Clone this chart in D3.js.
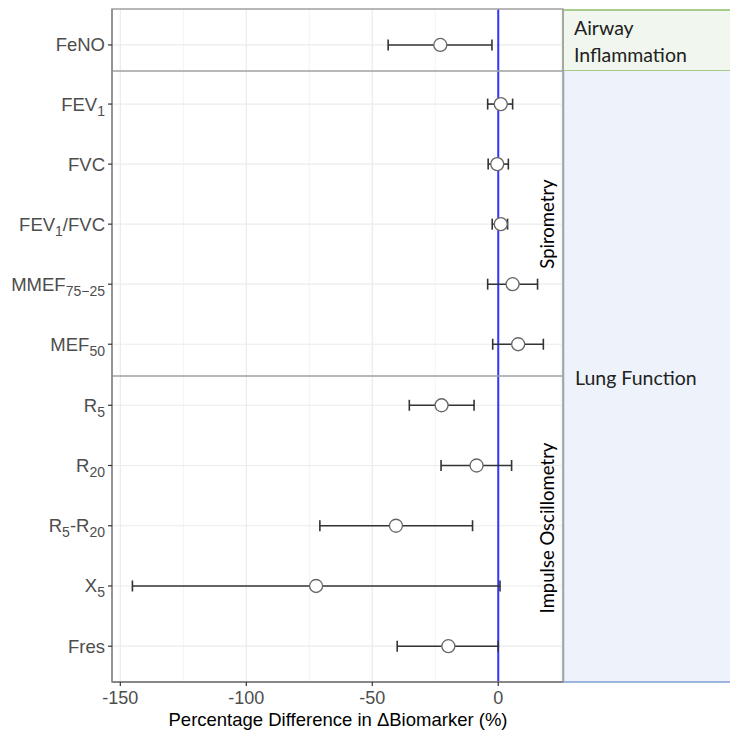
<!DOCTYPE html>
<html>
<head>
    <meta charset="utf-8">
    <title>Biomarker forest plot</title>
    <style>
        body { margin: 0; background: #fff; }
    </style>
</head>
<body>
    <svg width="730" height="733"></svg>
    <script src="https://cdn.jsdelivr.net/npm/d3@7"></script>
    <script>
        // ---- data ----
        var groups = ["Airway Inflammation", "Spirometry", "Impulse Oscillometry"];
        var biomarkers = ["FeNO", "FEV1", "FVC", "FEV1/FVC", "MMEF75-25", "MEF50", "R5", "R20", "R5-R20", "X5", "Fres"];
        var groupOf = [0, 1, 1, 1, 1, 1, 2, 2, 2, 2, 2];
        // label pieces: [text, subscript?]
        var labels = [
            [["FeNO", 0]],
            [["FEV", 0], ["1", 1]],
            [["FVC", 0]],
            [["FEV", 0], ["1", 1], ["/FVC", 0]],
            [["MMEF", 0], ["75\u221225", 1]],
            [["MEF", 0], ["50", 1]],
            [["R", 0], ["5", 1]],
            [["R", 0], ["20", 1]],
            [["R", 0], ["5", 1], ["-R", 0], ["20", 1]],
            [["X", 0], ["5", 1]],
            [["Fres", 0]]
        ];
        var estimate = [-23, 1.0, -0.4, 1.0, 5.7, 7.9, -22.5, -8.6, -40.6, -72.3, -19.8];
        var lower = [-43.7, -4.2, -4.0, -2.4, -4.2, -2.2, -35.3, -22.7, -70.8, -145.2, -40.1];
        var upper = [-2.5, 5.7, 4.0, 3.7, 15.6, 17.9, -9.6, 5.3, -10.2, 0.7, 0];
        var xTicks = [-150, -100, -50, 0];
        var xMinor = [-125, -75, -25, 25];

        var svg = d3.select("svg");
        var left = 112, right = 563;
        var sans = "'Liberation Sans', Arial, sans-serif";
        var stripFont = "Lato, 'Open Sans', sans-serif";
        var panels = [
            { top: 9, bottom: 71, align: 0.58 },
            { top: 71, bottom: 376, align: 0.51 },
            { top: 376, bottom: 682, align: 0.45 }
        ];

        var x = d3.scaleLinear().domain([-153.3, 25.7]).range([left, right]);

        // per-panel point scales
        var yScales = panels.map(function (p, gi) {
            var dom = biomarkers.filter(function (b, i) { return groupOf[i] === gi; });
            return d3.scalePoint().domain(dom).range([p.top, p.bottom]).padding(0.54).align(p.align);
        });
        function yOf(i) { return yScales[groupOf[i]](biomarkers[i]); }

        // strip boxes on the right
        svg.append("rect").attr("x", right).attr("y", 10).attr("width", 200).attr("height", 61)
            .attr("fill", "#f1f6ee").attr("stroke", "#70ad47").attr("stroke-width", 1.2);
        svg.append("rect").attr("x", right).attr("y", 71).attr("width", 200).attr("height", 611)
            .attr("fill", "#eef2fa").attr("stroke", "none");
        svg.append("line").attr("x1", right + 0.5).attr("x2", right + 0.5).attr("y1", 71).attr("y2", 682)
            .attr("stroke", "#8faadc").attr("stroke-width", 1.5);
        svg.append("line").attr("x1", right).attr("x2", 730).attr("y1", 682).attr("y2", 682)
            .attr("stroke", "#4472c4").attr("stroke-width", 1.2);

        function stripText(tx, ty, s) {
            svg.append("text").attr("x", tx).attr("y", ty)
                .attr("font-family", stripFont).attr("font-size", 19.5).attr("fill", "#222").text(s);
        }
        stripText(574, 35, "Airway");
        stripText(574, 62, "Inflammation");
        stripText(575, 385, "Lung Function");

        // grid lines
        var grid = svg.append("g");
        grid.selectAll("line.minor").data(xMinor).enter().append("line")
            .attr("x1", function (d) { return x(d); }).attr("x2", function (d) { return x(d); })
            .attr("y1", panels[0].top).attr("y2", panels[2].bottom)
            .attr("stroke", "#f3f3f3").attr("stroke-width", 1);
        grid.selectAll("line.major").data(xTicks).enter().append("line")
            .attr("x1", function (d) { return x(d); }).attr("x2", function (d) { return x(d); })
            .attr("y1", panels[0].top).attr("y2", panels[2].bottom)
            .attr("stroke", "#ebebeb").attr("stroke-width", 1.2);
        grid.selectAll("line.h").data(biomarkers).enter().append("line")
            .attr("x1", left).attr("x2", right)
            .attr("y1", function (d, i) { return yOf(i); }).attr("y2", function (d, i) { return yOf(i); })
            .attr("stroke", "#ebebeb").attr("stroke-width", 1.2);

        // zero line
        svg.append("line").attr("x1", x(0)).attr("x2", x(0))
            .attr("y1", panels[0].top).attr("y2", panels[2].bottom)
            .attr("stroke", "#3333ff").attr("stroke-width", 2);

        // panel frames
        var frame = svg.append("g").attr("stroke", "#a0a0a0").attr("stroke-width", 1.5).attr("fill", "none");
        frame.append("rect").attr("x", left).attr("y", panels[0].top)
            .attr("width", right - left).attr("height", panels[2].bottom - panels[0].top);
        frame.append("line").attr("x1", left).attr("x2", right).attr("y1", panels[1].top).attr("y2", panels[1].top);
        frame.append("line").attr("x1", left).attr("x2", right).attr("y1", panels[2].top).attr("y2", panels[2].top);
        svg.append("line").attr("x1", left).attr("x2", right).attr("y1", panels[2].bottom).attr("y2", panels[2].bottom)
            .attr("stroke", "#777").attr("stroke-width", 1.5);
        svg.append("line").attr("x1", left).attr("x2", left).attr("y1", panels[0].top).attr("y2", panels[2].bottom)
            .attr("stroke", "#888").attr("stroke-width", 1.5);

        // vertical facet labels inside the plot
        [[1, 224], [2, 528]].forEach(function (g) {
            svg.append("text").attr("font-family", stripFont).attr("font-size", 18.5).attr("fill", "#000")
                .attr("text-anchor", "middle")
                .attr("transform", "translate(554," + g[1] + ") rotate(-90)").text(groups[g[0]]);
        });

        // error bars
        var bars = svg.append("g").attr("stroke", "#333").attr("stroke-width", 1.6);
        bars.selectAll("line.eb").data(biomarkers).enter().append("line")
            .attr("x1", function (d, i) { return x(lower[i]); }).attr("x2", function (d, i) { return x(upper[i]); })
            .attr("y1", function (d, i) { return yOf(i); }).attr("y2", function (d, i) { return yOf(i); });
        bars.selectAll("line.lo").data(biomarkers).enter().append("line")
            .attr("x1", function (d, i) { return x(lower[i]); }).attr("x2", function (d, i) { return x(lower[i]); })
            .attr("y1", function (d, i) { return yOf(i) - 5.5; }).attr("y2", function (d, i) { return yOf(i) + 5.5; });
        bars.selectAll("line.hi").data(biomarkers).enter().append("line")
            .attr("x1", function (d, i) { return x(upper[i]); }).attr("x2", function (d, i) { return x(upper[i]); })
            .attr("y1", function (d, i) { return yOf(i) - 5.5; }).attr("y2", function (d, i) { return yOf(i) + 5.5; });

        // points
        svg.append("g").selectAll("circle").data(biomarkers).enter().append("circle")
            .attr("cx", function (d, i) { return x(estimate[i]); })
            .attr("cy", function (d, i) { return yOf(i); })
            .attr("r", 6.5).attr("fill", "#fff").attr("stroke", "#666").attr("stroke-width", 1.3);

        // y axis ticks and labels
        var yax = svg.append("g");
        yax.selectAll("line").data(biomarkers).enter().append("line")
            .attr("x1", left - 4).attr("x2", left)
            .attr("y1", function (d, i) { return yOf(i); }).attr("y2", function (d, i) { return yOf(i); })
            .attr("stroke", "#333").attr("stroke-width", 1.2);
        yax.selectAll("text").data(biomarkers).enter().append("text")
            .attr("font-family", sans).attr("font-size", 18.5).attr("fill", "#4d4d4d")
            .attr("text-anchor", "end")
            .attr("x", left - 7).attr("y", function (d, i) { return yOf(i) + 6.5; })
            .each(function (d, i) {
                var t = d3.select(this), shifted = false;
                labels[i].forEach(function (p) {
                    var s = t.append("tspan").text(p[0]);
                    if (p[1]) { s.attr("font-size", 14).attr("dy", shifted ? 0 : 5); shifted = true; }
                    else if (shifted) { s.attr("dy", -5); shifted = false; }
                });
            });

        // x axis
        var xax = svg.append("g");
        xax.selectAll("line").data(xTicks).enter().append("line")
            .attr("x1", function (d) { return x(d); }).attr("x2", function (d) { return x(d); })
            .attr("y1", panels[2].bottom).attr("y2", panels[2].bottom + 4)
            .attr("stroke", "#333").attr("stroke-width", 1.2);
        xax.selectAll("text").data(xTicks).enter().append("text")
            .attr("font-family", sans).attr("font-size", 18).attr("fill", "#4d4d4d")
            .attr("text-anchor", "middle")
            .attr("x", function (d) { return x(d); }).attr("y", panels[2].bottom + 22)
            .text(function (d) { return d; });
        svg.append("text").attr("x", 338).attr("y", 726)
            .attr("text-anchor", "middle")
            .attr("font-family", sans).attr("font-size", 18.5).attr("fill", "#000")
            .text("Percentage Difference in \u0394Biomarker (%)");
    </script>
</body>
</html>
